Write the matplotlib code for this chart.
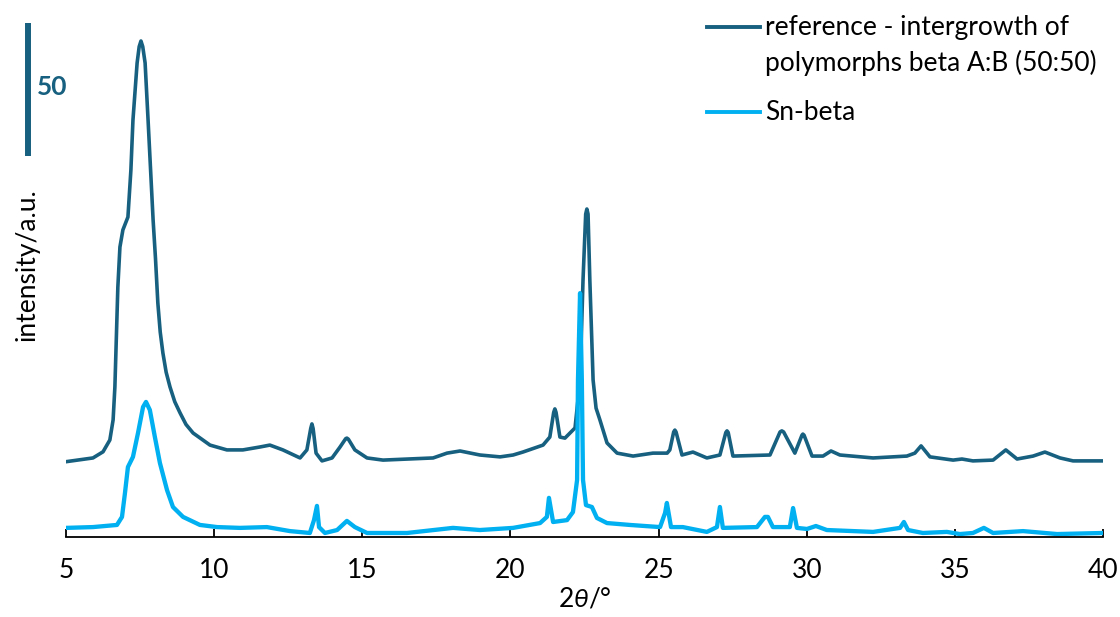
import matplotlib
matplotlib.use("Agg")
import matplotlib.pyplot as plt
from matplotlib.lines import Line2D
from matplotlib import transforms

plt.rcParams['font.family'] = ['Lato', 'DejaVu Sans']
plt.rcParams['mathtext.fontset'] = 'custom'
plt.rcParams['mathtext.it'] = 'Lato:italic'
plt.rcParams['mathtext.rm'] = 'Lato'

# reference - intergrowth of polymorphs beta A:B (50:50), offset pattern
ref_2theta = [5.00, 5.91, 6.25, 6.48, 6.59, 6.65, 6.75, 6.82, 6.92, 7.09, 7.19, 7.26, 7.40, 7.47,
              7.53, 7.59, 7.67, 7.77, 7.94, 8.02, 8.10, 8.18, 8.27, 8.38, 8.51, 8.67, 8.85, 9.05,
              9.29, 9.86, 10.43, 10.97, 11.55, 11.88,
              12.32, 12.90, 13.13, 13.26, 13.30, 13.34, 13.44, 13.64, 13.98, 14.25, 14.44, 14.48,
              14.53, 14.75, 15.16, 15.70,
              17.39, 17.86, 18.30, 18.97, 19.65, 20.09, 20.42, 21.10, 21.33, 21.46, 21.50, 21.54,
              21.67, 21.84, 22.18, 22.35, 22.45, 22.54, 22.58, 22.62, 22.68, 22.79, 22.89, 23.02,
              23.26, 23.60, 24.14, 24.81,
              25.29, 25.38, 25.51, 25.55, 25.59, 25.79, 26.16, 26.63, 27.07, 27.27, 27.31, 27.35,
              27.51, 28.76, 29.10, 29.16, 29.22, 29.60,
              29.84, 29.87, 29.91, 30.18, 30.55, 30.82, 31.12, 32.24, 33.38, 33.65, 33.86, 34.16,
              34.94, 35.24,
              35.61, 36.29, 36.72, 37.10, 37.64, 38.04, 38.55, 38.99, 40.00]
ref_int = [28.1, 29.5, 31.8, 36.2, 43.7, 56.0, 93.3, 108.2, 114.6, 119.4, 136.9, 155.6, 176.9, 183.0,
           185.1, 183.0, 176.9, 155.6, 118.3, 104.0, 87.3, 76.5, 68.7, 61.5, 56.0, 50.5, 46.3, 42.0,
           38.8, 34.3, 32.5, 32.5, 33.6, 34.3,
           32.5, 29.5, 32.5, 40.5, 42.2, 40.5, 31.3, 28.4, 29.5, 33.6, 36.7, 36.9,
           36.5, 32.5, 29.5, 28.7,
           29.5, 31.3, 32.1, 30.6, 29.9, 30.6, 31.7, 34.3, 37.3, 46.5, 47.8, 46.5,
           37.3, 36.9, 40.7, 58.6, 95.9, 120.5, 122.4, 120.5, 95.9, 58.6, 48.1, 43.7,
           35.1, 31.3, 30.2, 31.3,
           31.3, 32.5, 39.2, 39.9, 39.2, 30.6, 31.7, 29.5, 30.6, 39.0, 39.6, 39.0,
           30.2, 30.6, 39.2, 39.6, 39.2, 31.3,
           38.0, 38.4, 38.0, 30.2, 30.2, 32.1, 30.6, 29.5, 30.2, 31.3, 34.0, 29.9,
           28.7, 29.1,
           28.4, 28.7, 32.5, 29.1, 30.2, 31.7, 29.5, 28.4, 28.4]

# Sn-beta
sn_2theta = [5.00, 5.91, 6.72, 6.89, 6.99, 7.09, 7.26, 7.43, 7.60, 7.70, 7.83, 8.00, 8.17, 8.41,
             8.61, 8.95, 9.52, 10.10, 10.87, 11.78, 12.56, 13.23, 13.37, 13.47, 13.54, 13.74,
             14.15, 14.48, 14.75, 15.16, 16.51, 18.06, 18.97, 20.09, 21.00, 21.23, 21.30, 21.44,
             21.91, 22.11, 22.25, 22.28, 22.35, 22.41, 22.45, 22.55, 22.75, 22.92, 23.26, 24.03,
             25.05, 25.22, 25.28, 25.42, 25.82, 26.63, 26.97, 27.07, 27.17, 28.32, 28.59, 28.69,
             28.86, 29.43, 29.54, 29.67, 30.01, 30.31, 30.68, 32.24, 33.15, 33.28, 33.42, 33.92,
             34.73, 35.17, 35.61, 35.98, 36.29, 37.30, 38.45, 40.00]
sn_int = [3.4, 3.7, 4.5, 7.5, 16.4, 26.1, 29.9, 38.8, 48.5, 50.4, 47.4, 37.3, 27.6, 17.5,
          11.2, 7.5, 4.5, 3.7, 3.4, 3.7, 2.2, 1.5, 6.3, 11.6, 3.7, 1.5,
          2.6, 6.0, 3.7, 1.5, 1.5, 3.4, 2.6, 3.4, 5.2, 7.5, 14.6, 5.6,
          6.3, 9.3, 21.3, 58.6, 91.0, 58.6, 21.3, 11.9, 11.2, 7.1, 5.2, 4.5,
          3.7, 9.0, 12.7, 3.7, 3.7, 1.9, 3.7, 11.2, 3.4, 3.7, 7.5, 7.5,
          3.7, 3.7, 10.8, 3.4, 3.0, 4.1, 2.6, 1.9, 3.4, 5.6, 2.6, 1.5,
          1.9, 1.1, 1.5, 3.4, 1.5, 2.2, 1.1, 1.5]

xticks = [5, 10, 15, 20, 25, 30, 35, 40]
scale_bar = 50
labels = ["reference - intergrowth of\npolymorphs beta A:B (50:50)", "Sn-beta"]

c_ref = '#17607f'
c_sn = '#00b0f0'

fig = plt.figure(figsize=(11.2, 6.17), dpi=100)
ax = fig.add_axes([66 / 1120, 80 / 617, 1037 / 1120, 537 / 617])

ax.plot(ref_2theta, ref_int, color=c_ref, lw=2.6, solid_joinstyle='round')
ax.plot(sn_2theta, sn_int, color=c_sn, lw=3.1, solid_joinstyle='round')

ax.set_xlim(5, 40)
ax.set_ylim(0, 200.4)
ax.set_xticks(xticks)
ax.set_yticks([])
for s in ['left', 'right', 'top']:
    ax.spines[s].set_visible(False)
ax.spines['bottom'].set_linewidth(1.3)
ax.tick_params(axis='x', direction='in', length=6, width=1.3, pad=15, labelsize=19)
ax.set_xlabel(r'2$\it{\theta}$/°', fontsize=19, labelpad=3)

# scale bar
trans = transforms.blended_transform_factory(ax.transAxes, ax.transData)
ax.plot([-0.0366, -0.0366], [142, 142 + scale_bar], color=c_ref, lw=4.3,
        transform=trans, clip_on=False, solid_capstyle='butt')
ax.text(-0.028, 168, str(scale_bar), color=c_ref, fontsize=19, fontweight='bold',
        transform=trans, ha='left', va='center')

fig.text(27 / 1120, 1 - 265 / 617, 'intensity/a.u.', rotation=90, fontsize=19,
         ha='center', va='center')

# legend drawn by hand
fig.add_artist(Line2D([707 / 1120, 760 / 1120], [1 - 27 / 617] * 2, color=c_ref, lw=2.8))
fig.add_artist(Line2D([707 / 1120, 760 / 1120], [1 - 112 / 617] * 2, color=c_sn, lw=2.8))
fig.text(765 / 1120, 1 - 27 / 617, labels[0].split('\n')[0], fontsize=19, va='center')
fig.text(765 / 1120, 1 - 63 / 617, labels[0].split('\n')[1], fontsize=19, va='center')
fig.text(765 / 1120, 1 - 112 / 617, labels[1], fontsize=19, va='center')

fig.savefig('out.png', dpi=100)
